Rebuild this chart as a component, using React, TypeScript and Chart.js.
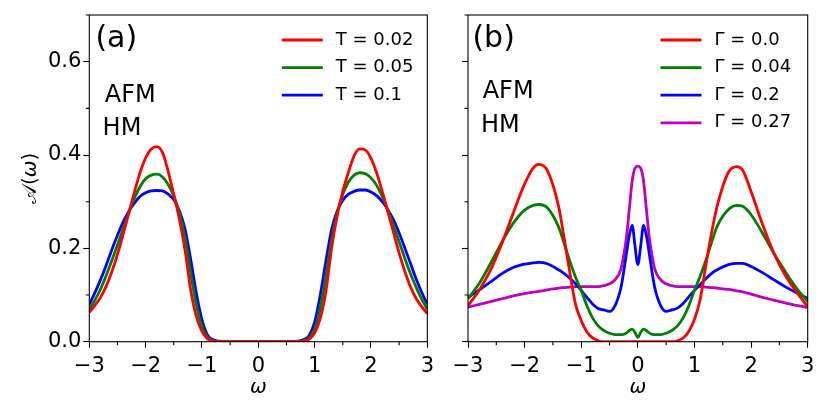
import React, { useEffect, useRef } from "react";
import { Chart, registerables } from "chart.js";

Chart.register(...registerables);

const FONT = "'DejaVu Sans', 'Liberation Sans', sans-serif";

// ---------- Panel (a): temperature dependence ----------
const omegaA = [
  -3.0, -2.9, -2.8, -2.7, -2.6, -2.5, -2.4, -2.3, -2.2, -2.1, -2.0, -1.9, -1.8, -1.7, -1.6, -1.5,
  -1.4, -1.3, -1.2, -1.1, -1.0, -0.9, -0.8, -0.7, -0.6, -0.5, -0.4, -0.3, -0.2, -0.1, 0, 0.1, 0.2,
  0.3, 0.4, 0.5, 0.6, 0.7, 0.8, 0.9, 1.0, 1.1, 1.2, 1.3, 1.4, 1.5, 1.6, 1.7, 1.8, 1.9, 2.0, 2.1,
  2.2, 2.3, 2.4, 2.5, 2.6, 2.7, 2.8, 2.9, 3.0,
];
const labelsA = ["T = 0.02", "T = 0.05", "T = 0.1"];
const colorsA = ["#ff0000", "#008000", "#0000ff"];
const specT002 = [
  0.063, 0.078, 0.095, 0.119, 0.15, 0.187, 0.23, 0.275, 0.32, 0.362, 0.394, 0.413, 0.418, 0.405,
  0.365, 0.315, 0.262, 0.196, 0.111, 0.054, 0.022, 0.006, 0.001, 0,
  0, 0, 0, 0, 0, 0, 0, 0, 0, 0, 0, 0, 0,
  0, 0.001, 0.005, 0.019, 0.05, 0.108, 0.2, 0.27, 0.322, 0.363, 0.398, 0.413, 0.411, 0.393, 0.362,
  0.322, 0.278, 0.234, 0.19, 0.151, 0.118, 0.093, 0.075, 0.06,
];
const specT005 = [
  0.07, 0.089, 0.113, 0.142, 0.174, 0.207, 0.242, 0.276, 0.307, 0.332, 0.349, 0.357, 0.359, 0.353,
  0.337, 0.312, 0.275, 0.222, 0.147, 0.079, 0.032, 0.009, 0.002, 0,
  0, 0, 0, 0, 0, 0, 0, 0, 0, 0, 0, 0, 0,
  0, 0.002, 0.008, 0.027, 0.072, 0.14, 0.218, 0.276, 0.316, 0.342, 0.357, 0.362, 0.36, 0.351, 0.335,
  0.311, 0.282, 0.249, 0.214, 0.179, 0.146, 0.117, 0.091, 0.069,
];
const specT01 = [
  0.08, 0.105, 0.133, 0.164, 0.197, 0.228, 0.256, 0.279, 0.297, 0.311, 0.319, 0.323, 0.324, 0.323,
  0.316, 0.304, 0.28, 0.241, 0.176, 0.104, 0.047, 0.014, 0.004, 0.001,
  0, 0, 0, 0, 0, 0, 0, 0, 0, 0, 0, 0, 0,
  0.001, 0.004, 0.013, 0.042, 0.1, 0.173, 0.24, 0.28, 0.303, 0.316, 0.322, 0.325, 0.325, 0.321,
  0.313, 0.3, 0.283, 0.261, 0.233, 0.201, 0.168, 0.135, 0.106, 0.08,
];

// ---------- Panel (b): scattering-rate dependence ----------
const omegaB = [
  -3.0, -2.8, -2.6, -2.4, -2.2, -2.0, -1.85, -1.75, -1.6, -1.4, -1.3, -1.2, -1.1, -1.0, -0.9, -0.8,
  -0.7, -0.6, -0.5, -0.4, -0.3, -0.25, -0.2, -0.15, -0.1, -0.05, 0, 0.05, 0.1, 0.15, 0.2, 0.25, 0.3,
  0.4, 0.5, 0.6, 0.7, 0.8, 0.9, 1.0, 1.1, 1.2, 1.3, 1.4, 1.6, 1.75, 1.85, 2.0, 2.2, 2.4, 2.6, 2.8, 3.0,
];
const labelsB = ["Γ = 0.0", "Γ = 0.04", "Γ = 0.2", "Γ = 0.27"];
const colorsB = ["#ff0000", "#008000", "#0000ff", "#bf00bf"];
const specG0 = [
  0.077, 0.111, 0.154, 0.211, 0.276, 0.338, 0.372, 0.38, 0.367, 0.29, 0.221, 0.147, 0.08, 0.045,
  0.021, 0.008, 0.002, 0, 0, 0, 0, 0, 0, 0, 0, 0,
  0,
  0, 0, 0, 0, 0, 0, 0, 0, 0, 0.002, 0.008, 0.022, 0.048, 0.09, 0.163, 0.232, 0.29, 0.363, 0.375,
  0.368, 0.322, 0.252, 0.19, 0.143, 0.107, 0.075,
];
const specG004 = [
  0.092, 0.125, 0.168, 0.214, 0.254, 0.282, 0.292, 0.294, 0.287, 0.246, 0.21, 0.172, 0.138, 0.11,
  0.077, 0.051, 0.034, 0.024, 0.018, 0.015, 0.015, 0.016, 0.019, 0.024, 0.027, 0.02,
  0.009,
  0.02, 0.027, 0.024, 0.019, 0.016, 0.015, 0.015, 0.018, 0.024, 0.034, 0.051, 0.077, 0.11, 0.14,
  0.174, 0.212, 0.247, 0.283, 0.292, 0.29, 0.272, 0.233, 0.19, 0.151, 0.115, 0.086,
];
const specG02 = [
  0.095, 0.111, 0.128, 0.146, 0.159, 0.166, 0.169, 0.17, 0.167, 0.154, 0.146, 0.136, 0.124, 0.11,
  0.095, 0.081, 0.071, 0.068, 0.065, 0.078, 0.115, 0.15, 0.19, 0.228, 0.249, 0.205,
  0.165,
  0.205, 0.249, 0.228, 0.19, 0.15, 0.115, 0.078, 0.065, 0.068, 0.072, 0.082, 0.096, 0.11, 0.122,
  0.135, 0.146, 0.154, 0.165, 0.168, 0.168, 0.161, 0.148, 0.133, 0.118, 0.105, 0.093,
];
const specG027 = [
  0.074, 0.08, 0.086, 0.092, 0.098, 0.103, 0.106, 0.108, 0.111, 0.115, 0.116, 0.117, 0.118, 0.118,
  0.118, 0.118, 0.118, 0.12, 0.124, 0.133, 0.155, 0.185, 0.225, 0.285, 0.345, 0.372,
  0.376,
  0.372, 0.345, 0.285, 0.225, 0.185, 0.155, 0.133, 0.124, 0.12, 0.118, 0.118, 0.118, 0.118, 0.118,
  0.117, 0.116, 0.115, 0.112, 0.109, 0.107, 0.102, 0.095, 0.089, 0.083, 0.078, 0.073,
];

const xRange = [-3, 3];
const yRange = [0, 0.7];
const xStep = 0.5;
const yStep = 0.1;

type PanelSpec = {
  tag: string;
  omega: number[];
  series: number[][];
  labels: string[];
  colors: string[];
  canvasWidth: number;
  yAxisWidth: number;
  padRight: number;
  showYLabels: boolean;
  tagPos: [number, number];
  afmPos: [number, number];
  hmPos: [number, number];
};

const panels: PanelSpec[] = [
  {
    tag: "(a)",
    omega: omegaA,
    series: [specT002, specT005, specT01],
    labels: labelsA,
    colors: colorsA,
    canvasWidth: 440,
    yAxisWidth: 89.3,
    padRight: 10.7,
    showYLabels: true,
    tagPos: [6.1, 32],
    afmPos: [15.5, 87],
    hmPos: [13.3, 120],
  },
  {
    tag: "(b)",
    omega: omegaB,
    series: [specG0, specG004, specG02, specG027],
    labels: labelsB,
    colors: colorsB,
    canvasWidth: 390,
    yAxisWidth: 28,
    padRight: 22.3,
    showYLabels: false,
    tagPos: [4.4, 32],
    afmPos: [14.7, 83.3],
    hmPos: [12.9, 116.7],
  },
];

const isInt = (v: number) => Math.abs(v - Math.round(v)) < 1e-9;
const isMajorY = (v: number) => Math.round(v * 10) % 2 === 0;
const fmtX = (v: number) => (v < 0 ? "\u2212" + Math.abs(Math.round(v)) : String(Math.round(v)));

function decorPlugin(p: PanelSpec) {
  return {
    id: "decor",
    afterDatasetsDraw(chart: any) {
      const { ctx, chartArea: ca, scales } = chart;
      const xs = scales.x;
      const ys = scales.y;
      ctx.save();
      // frame
      ctx.strokeStyle = "#000";
      ctx.lineWidth = 1.1;
      ctx.strokeRect(ca.left, ca.top, ca.right - ca.left, ca.bottom - ca.top);
      // minor ticks from the scales' own ticks
      ctx.beginPath();
      xs.ticks.forEach((t: any) => {
        if (!isInt(t.value)) {
          const px = xs.getPixelForValue(t.value);
          ctx.moveTo(px, ca.bottom);
          ctx.lineTo(px, ca.bottom + 3.5);
        }
      });
      ys.ticks.forEach((t: any) => {
        if (!isMajorY(t.value)) {
          const py = ys.getPixelForValue(t.value);
          ctx.moveTo(ca.left, py);
          ctx.lineTo(ca.left - 3.5, py);
        }
      });
      ctx.stroke();
      // legend
      const lx0 = ca.left + 192.5;
      const lx1 = ca.left + 233.5;
      const tx = ca.left + 246.5;
      ctx.textBaseline = "middle";
      ctx.textAlign = "left";
      ctx.font = `18px ${FONT}`;
      chart.data.datasets.forEach((ds: any, i: number) => {
        const y = ca.top + 25 + 27.6 * i;
        ctx.strokeStyle = ds.borderColor;
        ctx.lineWidth = 2.8;
        ctx.beginPath();
        ctx.moveTo(lx0, y);
        ctx.lineTo(lx1, y);
        ctx.stroke();
        ctx.fillStyle = "#000";
        ctx.fillText(ds.label, tx, y);
      });
      // annotations
      ctx.textBaseline = "alphabetic";
      ctx.fillStyle = "#000";
      ctx.font = `30px ${FONT}`;
      ctx.fillText(p.tag, ca.left + p.tagPos[0], ca.top + p.tagPos[1]);
      ctx.font = `24px ${FONT}`;
      ctx.fillText("AFM", ca.left + p.afmPos[0], ca.top + p.afmPos[1]);
      ctx.fillText("HM", ca.left + p.hmPos[0], ca.top + p.hmPos[1]);
      // y-axis title (left panel only)
      if (p.showYLabels) {
        ctx.translate(36, (ca.top + ca.bottom) / 2);
        ctx.rotate(-Math.PI / 2);
        const parts = [
          { t: "\u{1D49C}", f: `20px ${FONT}` },
          { t: "(", f: `20px ${FONT}` },
          { t: "ω", f: `italic 20px ${FONT}` },
          { t: ")", f: `20px ${FONT}` },
        ];
        let total = 0;
        const widths = parts.map((q) => {
          ctx.font = q.f;
          const w = ctx.measureText(q.t).width;
          total += w;
          return w;
        });
        let x = -total / 2;
        parts.forEach((q, i) => {
          ctx.font = q.f;
          ctx.fillText(q.t, x, 0);
          x += widths[i];
        });
      }
      ctx.restore();
    },
  };
}

function Panel({ spec, left }: { spec: PanelSpec; left: number }) {
  const ref = useRef<HTMLCanvasElement | null>(null);
  useEffect(() => {
    if (!ref.current) return;
    const datasets = spec.series.map((ys, i) => ({
      label: spec.labels[i],
      data: spec.omega.map((x, j) => ({ x, y: ys[j] })),
      borderColor: spec.colors[i],
      backgroundColor: spec.colors[i],
      borderWidth: 2.8,
      pointRadius: 0,
      fill: false,
      cubicInterpolationMode: "monotone" as const,
    }));
    const chart = new Chart(ref.current, {
      type: "line",
      data: { datasets },
      plugins: [decorPlugin(spec)],
      options: {
        animation: false,
        responsive: false,
        maintainAspectRatio: false,
        events: [],
        layout: { padding: { left: 0, top: 15, right: spec.padRight, bottom: 0 } },
        plugins: { legend: { display: false }, tooltip: { enabled: false } },
        scales: {
          x: {
            type: "linear",
            min: xRange[0],
            max: xRange[1],
            afterFit: (s: any) => {
              s.height = 73.3;
            },
            ticks: {
              stepSize: xStep,
              autoSkip: false,
              maxRotation: 0,
              padding: 6,
              color: "#000",
              font: { family: FONT, size: 21 },
              callback: (v: any) => (isInt(Number(v)) ? fmtX(Number(v)) : ""),
            },
            grid: {
              drawOnChartArea: false,
              drawTicks: true,
              tickLength: 6,
              tickWidth: 1.1,
              tickColor: (c: any) => (c.tick && isInt(c.tick.value) ? "#000" : "rgba(0,0,0,0)"),
            },
            border: { display: false },
            title: {
              display: true,
              text: "ω",
              color: "#000",
              font: { family: FONT, size: 20, style: "italic" },
              padding: { top: 0, bottom: 15 },
            },
          },
          y: {
            type: "linear",
            min: yRange[0],
            max: yRange[1],
            afterFit: (s: any) => {
              s.width = spec.yAxisWidth;
            },
            ticks: {
              display: spec.showYLabels,
              stepSize: yStep,
              autoSkip: false,
              padding: 2,
              color: "#000",
              font: { family: FONT, size: 21 },
              callback: (v: any) => (isMajorY(Number(v)) ? Number(v).toFixed(1) : ""),
            },
            grid: {
              drawOnChartArea: false,
              drawTicks: true,
              tickLength: 6,
              tickWidth: 1.1,
              tickColor: (c: any) => (c.tick && isMajorY(c.tick.value) ? "#000" : "rgba(0,0,0,0)"),
            },
            border: { display: false },
          },
        },
      } as any,
    });
    return () => chart.destroy();
  }, [spec]);
  return (
    <canvas
      ref={ref}
      width={spec.canvasWidth}
      height={415}
      style={{ position: "absolute", left, top: 0, width: spec.canvasWidth, height: 415 }}
    />
  );
}

export default function App() {
  return (
    <div
      style={{
        position: "absolute",
        left: 0,
        top: 0,
        width: 830,
        height: 415,
        background: "#fff",
        overflow: "hidden",
      }}
    >
      <Panel spec={panels[0]} left={0} />
      <Panel spec={panels[1]} left={440} />
    </div>
  );
}
